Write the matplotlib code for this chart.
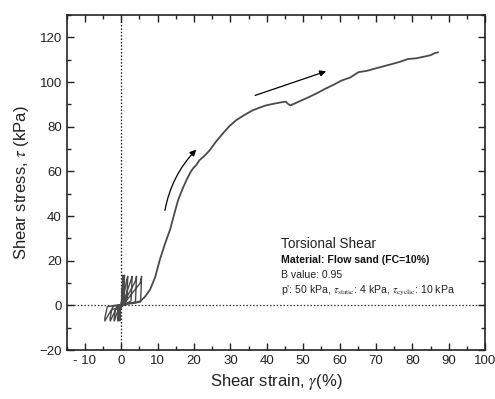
import matplotlib
matplotlib.use("Agg")
import matplotlib.pyplot as plt
from matplotlib.ticker import MultipleLocator

plt.rcParams['font.family'] = ['Liberation Sans', 'DejaVu Sans']
plt.rcParams['mathtext.fontset'] = 'stix'

# cyclic loading part (strain %, stress kPa)
gamma_cyc = [0.0, 0.2, 0.4, 0.5, 0.2, -0.2, -0.4, -0.4, -0.2, 0.2, 0.7, 0.9, 0.6, 0.0,
             -0.8, -1.0, -0.9, -0.3, 0.3, 1.5, 1.8, 1.5, 0.2, -1.6, -2.0, -1.9, -0.5,
             0.4, 2.6, 3.0, 2.7, 0.3, -2.6, -3.1, -3.0, -1.0, 0.4, 3.8, 4.2, 3.9, 0.3,
             -3.8, -4.5, -4.5, -2.0, 0.5, 5.2, 5.6, 5.3, 3.0, 1.0]
tau_cyc = [0.0, 5.0, 12.0, 13.5, 3.0, -1.0, -5.0, -7.0, -1.5, 1.0, 11.0, 13.5, 2.0, -0.5,
           -2.5, -6.5, -7.0, -0.5, 0.5, 11.5, 13.0, 2.5, -0.5, -2.0, -6.5, -7.0, -0.3,
           0.3, 11.0, 13.0, 2.0, -0.3, -2.0, -6.0, -7.0, 0.0, 0.3, 10.5, 13.0, 1.5, 0.0,
           -0.5, -5.5, -7.0, 0.0, 0.2, 10.0, 13.0, 1.5, 0.8, 0.8]

# monotonic part after liquefaction
gamma_mono = [1.0, 3.0, 5.2, 6.5, 7.9, 9.3, 10.6, 12.0, 13.4, 14.5, 15.6, 16.8, 17.9, 19.0,
              19.7, 20.6, 21.5, 22.9, 24.3, 26.0, 27.9, 29.7, 31.5, 33.8, 36.1, 38.0, 39.7,
              42.0, 44.3, 45.2, 46.0, 46.5, 48.5, 51.5, 53.8, 56.1, 58.4, 60.6, 62.9, 65.2,
              67.5, 69.7, 72.0, 74.3, 76.5, 78.8, 81.0, 83.4, 85.0, 86.1, 87.0]
tau_mono = [0.8, 1.0, 1.8, 3.8, 7.0, 12.5, 20.4, 27.5, 33.8, 40.5, 47.0, 52.0, 56.0, 59.5,
            61.3, 62.8, 65.0, 67.0, 69.4, 73.2, 76.9, 80.2, 82.8, 85.2, 87.3, 88.5, 89.5,
            90.3, 91.0, 91.2, 90.0, 89.5, 91.0, 93.2, 95.0, 97.0, 98.8, 100.7, 102.0, 104.4,
            105.0, 106.0, 107.0, 108.0, 109.0, 110.3, 110.6, 111.4, 112.0, 112.9, 113.3]

x_ticks = [-10, 0, 10, 20, 30, 40, 50, 60, 70, 80, 90, 100]
x_ticklabels = ['- 10', '0', '10', '20', '30', '40', '50', '60', '70', '80', '90', '100']
y_ticks = [-20, 0, 20, 40, 60, 80, 100, 120]

fig = plt.figure(figsize=(4.95, 3.99), dpi=100)
ax = fig.add_axes([0.1347, 0.1228, 0.8453, 0.8396])

line_color = '#4a4a4a'
ax.plot(gamma_cyc, tau_cyc, color=line_color, lw=1.0)
ax.plot(gamma_mono, tau_mono, color=line_color, lw=1.3)

ax.axhline(0, color='#333333', lw=0.9, ls=(0, (1.2, 1.5)), zorder=0)
ax.axvline(0, color='#111111', lw=0.9, ls=(0, (1.2, 1.5)), zorder=0)

ax.annotate('', xy=(20.6, 69.7), xytext=(12.0, 42.5),
            arrowprops=dict(arrowstyle='-|>', color='black', lw=0.9,
                            connectionstyle='arc3,rad=-0.15',
                            mutation_scale=9, shrinkA=0, shrinkB=0))
ax.annotate('', xy=(56.3, 104.8), xytext=(36.8, 94.0),
            arrowprops=dict(arrowstyle='-|>', color='black', lw=0.9,
                            mutation_scale=9, shrinkA=0, shrinkB=0))

ax.text(44.0, 25.5, 'Torsional Shear', fontsize=9.8, color='#222222')
ax.text(44.0, 19.0, 'Material: Flow sand (FC=10%)', fontsize=7.6, fontweight='bold',
        color='#111111')
ax.text(44.0, 12.3, 'B value: 0.95', fontsize=7.6, color='#222222')
ax.text(44.0, 5.2, r"p': 50 kPa, $\tau_{\rm static}$: 4 kPa, $\tau_{\rm cyclic}$: 10 kPa",
        fontsize=7.6, color='#222222')

ax.set_xlim(-15, 100)
ax.set_ylim(-20, 130)
ax.set_xticks(x_ticks)
ax.set_xticklabels(x_ticklabels)
ax.set_yticks(y_ticks)
ax.xaxis.set_minor_locator(MultipleLocator(5))
ax.yaxis.set_minor_locator(MultipleLocator(10))
ax.tick_params(which='both', direction='in', top=True, right=True, labelsize=9.5,
               colors='#222222', width=1.0)
ax.tick_params(which='major', length=5)
ax.tick_params(which='minor', length=3)
for s in ax.spines.values():
    s.set_linewidth(1.2)
    s.set_color('#222222')

ax.set_xlabel(r'Shear strain, $\gamma$(%)', fontsize=12, color='#222222', labelpad=4)
ax.set_ylabel(r'Shear stress, $\tau$ (kPa)', fontsize=12, color='#222222', labelpad=6)

fig.savefig('out.png', dpi=100)
